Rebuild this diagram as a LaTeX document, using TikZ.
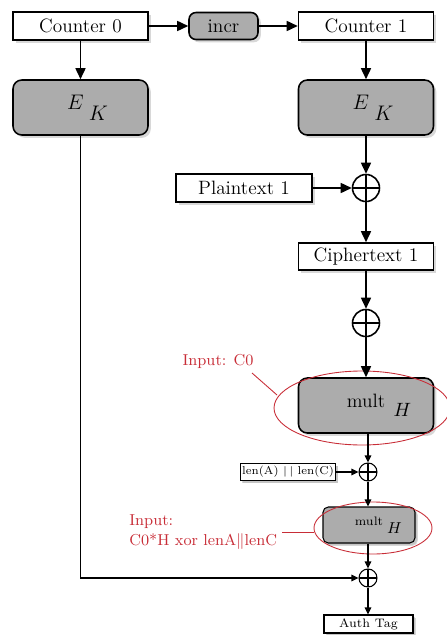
\documentclass[tikz,border=0pt]{standalone}
\usepackage{amsmath,amssymb}
\usepackage{xcolor}
\usepackage{tikz}
\usetikzlibrary{
    positioning,
    arrows.meta,
    shapes,
    shadows,
    calc
}
\definecolor{annot}{RGB}{200,45,55}
\definecolor{blockgray}{RGB}{172,172,172}

\begin{document}
\begin{tikzpicture}[x=0.02cm, y=-0.02cm,
  ctr/.style={draw, fill=white, line width=0.9pt, minimum width=2.7cm, minimum height=0.56cm,
              inner sep=1pt, text centered, font=\fontsize{11}{13}\selectfont,
              drop shadow={shadow xshift=1.6pt, shadow yshift=-1.6pt, fill=black!30}},
  blk/.style={draw, fill=blockgray, line width=0.9pt, rounded corners=5pt,
              minimum width=2.7cm, minimum height=1.1cm, inner sep=1pt,
              drop shadow={shadow xshift=1.6pt, shadow yshift=-1.6pt, fill=black!30}},
  xorop/.style={draw, circle, fill=white, line width=0.9pt, minimum size=0.54cm, inner sep=0pt,
                path picture={\draw[line width=0.8pt]
                  (path picture bounding box.north) -- (path picture bounding box.south)
                  (path picture bounding box.west) -- (path picture bounding box.east);}},
  smallxor/.style={xorop, line width=0.6pt, minimum size=0.36cm},
  arr/.style={-{Triangle[length=2.2mm, width=2mm]}, line width=0.9pt},
  thinarr/.style={-{Triangle[length=1.4mm, width=1.3mm]}, line width=0.6pt},
  ring/.style={draw=annot, line width=0.5pt},
  note/.style={text=annot, align=left, inner sep=0pt, font=\small}]

  \useasboundingbox (0,0) rectangle (446,635);

  % Counter row
  \node[ctr] (C0) at (80.5,26) {Counter 0};
  \node[blk, font=\fontsize{11}{13}\selectfont, minimum width=1.38cm, minimum height=0.54cm,
        rounded corners=4pt] (incr) at (223.5,26) {incr};
  \node[ctr] (C1) at (366,26) {Counter 1};

  % Block cipher
  \node[blk, font=\large] (EK0) at (80.5,107.5)
    {\hspace{0.28cm}$E$\hspace{3pt}\raisebox{-1.2ex}{$K$}};
  \node[blk, font=\large] (EK1) at (366,107.5)
    {\hspace{0.28cm}$E$\hspace{3pt}\raisebox{-1.2ex}{$K$}};

  % Encryption
  \node[ctr, minimum width=2.72cm] (PT) at (244,188) {Plaintext 1};
  \node[xorop] (X1) at (366,188) {};
  \node[ctr, minimum height=0.54cm] (CT) at (366,256.5) {Ciphertext 1};
  \node[xorop] (X2) at (366,323) {};

  % GHASH
  \node[blk, font=\fontsize{11}{13}\selectfont] (MH1) at (366,405.5)
    {\makebox[0pt]{\raisebox{-0.5ex}{mult}}\makebox[0pt][l]{\hspace{0.55cm}\raisebox{-1.6ex}{$H$}}};
  \node[ctr, font=\fontsize{6.5}{7}\selectfont, line width=0.6pt, minimum width=1.8cm,
        minimum height=0.34cm,
        drop shadow={shadow xshift=1.2pt, shadow yshift=-1.2pt, fill=black!30}] (LEN) at (288,472)
    {len(A) $|\,|$ len(C)};
  \node[smallxor] (X3) at (368,472) {};
  \node[blk, font=\scriptsize, line width=0.6pt, minimum width=1.84cm, minimum height=0.72cm,
        rounded corners=3pt,
        drop shadow={shadow xshift=1.2pt, shadow yshift=-1.2pt, fill=black!30}] (MH2) at (369,525)
    {\makebox[0pt]{mult}\makebox[0pt][l]{\hspace{0.36cm}\raisebox{-1.5ex}{\small$H$}}};
  \node[smallxor] (X4) at (368,578) {};
  \node[ctr, font=\scriptsize, line width=0.6pt, minimum width=1.78cm, minimum height=0.36cm,
        drop shadow={shadow xshift=1.2pt, shadow yshift=-1.2pt, fill=black!30}] (AT) at (368.5,624)
    {Auth Tag};

  % Annotations
  \node[note] (inC0) at (218,361) {Input: C0};
  \node[note, anchor=west] (inC0H) at (129,532) {Input:\\C0*H xor lenA$\|$lenC};
  \draw[ring] (362,408) ellipse [x radius=1.76cm, y radius=0.74cm];
  \draw[ring] (373,528) ellipse [x radius=1.18cm, y radius=0.52cm];
  \coordinate (R1) at (277,395);
  \coordinate (R2) at (314,532);
  \draw[ring] (252,373) -- (R1);
  \draw[ring] (282,532) -- (R2);

  % Connectors
  \draw[arr] (C0) -- (incr);
  \draw[arr] (incr) -- (C1);
  \draw[arr] (C0) -- (EK0);
  \draw[arr] (C1) -- (EK1);
  \draw[arr] (EK1) -- (X1);
  \draw[arr] (PT) -- (X1);
  \draw[arr] (X1) -- (CT);
  \draw[arr] (CT) -- (X2);
  \draw[arr] (X2) -- (X2 |- MH1.north);
  \draw[thinarr] (X3 |- MH1.south) -- (X3);
  \draw[thinarr] (LEN) -- (X3);
  \draw[thinarr] (X3) -- (X3 |- MH2.north);
  \draw[thinarr] (X4 |- MH2.south) -- (X4);
  \draw[thinarr] (X4) -- (X4 |- AT.north);
  \draw[thinarr] (EK0.south) |- (X4.west);
\end{tikzpicture}
\end{document}
